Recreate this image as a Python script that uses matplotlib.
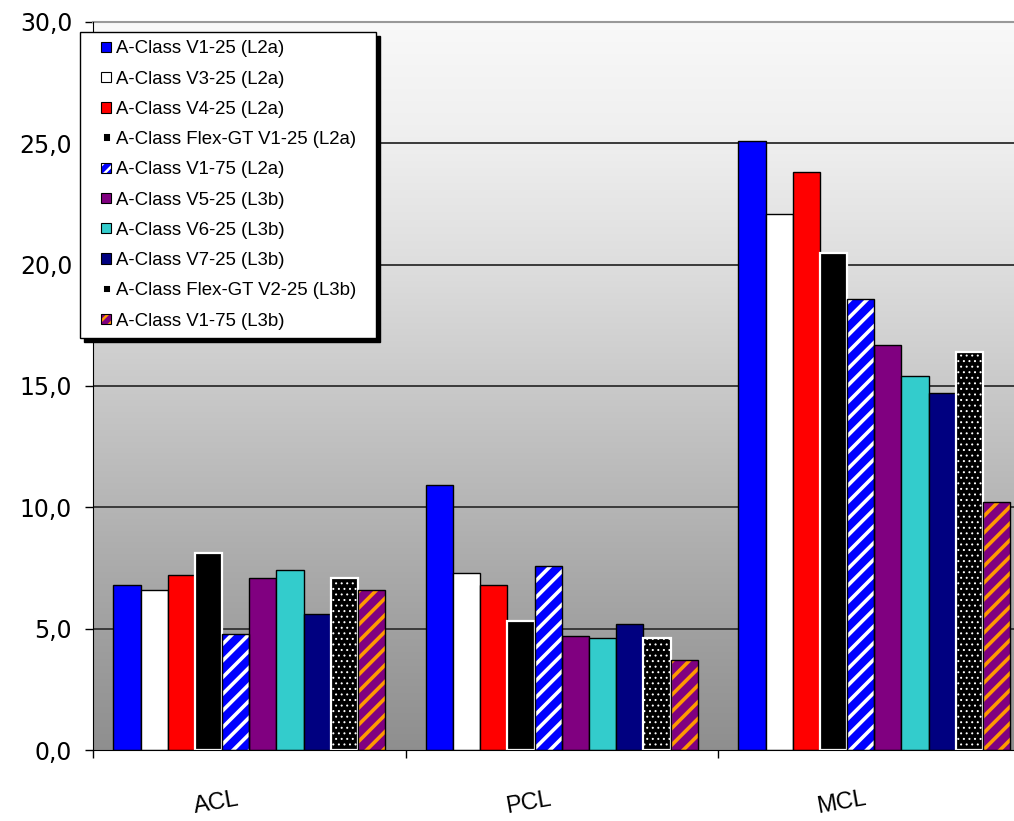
import numpy as np
import matplotlib
matplotlib.use("Agg")
import matplotlib.pyplot as plt
from matplotlib.patches import Rectangle
from matplotlib.legend_handler import HandlerBase
from matplotlib.colors import LinearSegmentedColormap
from matplotlib.transforms import ScaledTranslation

# ---- data -------------------------------------------------------------
categories = ["ACL", "PCL", "MCL"]

series_labels = [
    "A-Class V1-25 (L2a)",
    "A-Class V3-25 (L2a)",
    "A-Class V4-25 (L2a)",
    "A-Class Flex-GT V1-25 (L2a)",
    "A-Class V1-75 (L2a)",
    "A-Class V5-25 (L3b)",
    "A-Class V6-25 (L3b)",
    "A-Class V7-25 (L3b)",
    "A-Class Flex-GT V2-25 (L3b)",
    "A-Class V1-75 (L3b)",
]

v1_25_l2a = [6.8, 10.9, 25.1]
v3_25_l2a = [6.6, 7.3, 22.1]
v4_25_l2a = [7.2, 6.8, 23.8]
flex_v1_25_l2a = [8.1, 5.3, 20.5]
v1_75_l2a = [4.8, 7.6, 18.6]
v5_25_l3b = [7.1, 4.7, 16.7]
v6_25_l3b = [7.4, 4.6, 15.4]
v7_25_l3b = [5.6, 5.2, 14.7]
flex_v2_25_l3b = [7.1, 4.6, 16.4]
v1_75_l3b = [6.6, 3.7, 10.2]

series_values = [v1_25_l2a, v3_25_l2a, v4_25_l2a, flex_v1_25_l2a, v1_75_l2a,
                 v5_25_l3b, v6_25_l3b, v7_25_l3b, flex_v2_25_l3b, v1_75_l3b]

y_ticks = [0, 5, 10, 15, 20, 25, 30]
y_tick_labels = ["0,0", "5,0", "10,0", "15,0", "20,0", "25,0", "30,0"]

# ---- styles -----------------------------------------------------------
BLUE, WHITE, RED, BLACK = "#0000FF", "#FFFFFF", "#FF0000", "#000000"
PURPLE, CYAN, NAVY, ORANGE = "#800080", "#33CCCC", "#000080", "#FF9900"

# (face, hatch, hatch colour, outline colour, hatch line width)
styles = [
    (BLUE, None, None, BLACK, 0),
    (WHITE, None, None, BLACK, 0),
    (RED, None, None, BLACK, 0),
    (BLACK, None, None, WHITE, 0),
    (BLUE, "//", WHITE, BLACK, 2.6),
    (PURPLE, None, None, BLACK, 0),
    (CYAN, None, None, BLACK, 0),
    (NAVY, None, None, BLACK, 0),
    (BLACK, "...", WHITE, WHITE, 0.7),
    (PURPLE, "//", ORANGE, BLACK, 2.6),
]

DPI = 100
fig = plt.figure(figsize=(10.14, 8.21), dpi=DPI, facecolor="white")
ax = fig.add_axes([93 / 1014, 1 - 750 / 821, 937.5 / 1014, 728 / 821])

ax.set_xlim(-0.5, 2.5)
ax.set_ylim(0, 30)

# gradient background of the plot area
grad_cmap = LinearSegmentedColormap.from_list(
    "bg", [(0.0, (0.56,) * 3), (1 / 6, (0.63,) * 3), (2 / 6, (0.71,) * 3),
           (3 / 6, (0.79,) * 3), (4 / 6, (0.87,) * 3), (5 / 6, (0.935,) * 3),
           (1.0, (0.975,) * 3)])
grad = np.linspace(0, 1, 256).reshape(-1, 1)
ax.imshow(grad, cmap=grad_cmap, origin="lower", aspect="auto",
          extent=(-0.5, 2.5, 0, 30), zorder=0, interpolation="bicubic")

# horizontal grid lines
for yv in y_ticks[1:-1]:
    ax.axhline(yv, color="#3a3a3a", lw=1.4, zorder=1)

# ---- bars -------------------------------------------------------------
n = len(series_values)
width = 0.087
x = np.arange(len(categories))
for j, (vals, (face, hatch, hcol, ecol, hlw)) in enumerate(zip(series_values, styles)):
    pos = x + (j - (n - 1) / 2) * width
    elw = 1.6 if ecol == WHITE else 1.0
    if hatch is None:
        ax.bar(pos, vals, width=width, color=face, edgecolor=ecol,
               linewidth=elw, zorder=3)
    else:
        with plt.rc_context({"hatch.linewidth": hlw}):
            ax.bar(pos, vals, width=width, color=face, edgecolor=hcol,
                   hatch=hatch, linewidth=0, zorder=3)
        ax.bar(pos, vals, width=width, fill=False, edgecolor=ecol,
               linewidth=elw, zorder=4)

# ---- axes styling -----------------------------------------------------
ax.spines["top"].set_color("#999999")
ax.spines["top"].set_linewidth(1.5)
ax.spines["right"].set_visible(False)
ax.spines["left"].set_color("black")
ax.spines["bottom"].set_color("black")
ax.spines["left"].set_zorder(5)
ax.spines["bottom"].set_zorder(5)

ax.set_yticks(y_ticks)
ax.set_yticklabels(y_tick_labels, fontfamily="DejaVu Sans", fontsize=17)
ax.tick_params(axis="y", direction="out", length=6, width=1, pad=9)

# boundaries between categories as major ticks, names as minor tick labels
ax.set_xticks([-0.5, 0.5, 1.5, 2.5])
ax.set_xticklabels([])
ax.tick_params(axis="x", which="major", direction="out", length=6, width=1)
ax.set_xticks(x, minor=True)
ax.set_xticklabels(categories, minor=True, fontfamily="Liberation Sans",
                   fontsize=17, rotation=10, rotation_mode="anchor",
                   ha="center", va="center")
ax.tick_params(axis="x", which="minor", length=0, pad=38)
shift = ScaledTranslation(-33 / DPI, 0, fig.dpi_scale_trans)
for lab in ax.get_xticklabels(minor=True):
    lab.set_transform(lab.get_transform() + shift)


# ---- legend -----------------------------------------------------------
class LegendKey:
    def __init__(self, face, hatch, hcol, ecol, hlw):
        self.face, self.hatch, self.hcol, self.ecol, self.hlw = face, hatch, hcol, ecol, hlw


class SquareKeyHandler(HandlerBase):
    """Small square key placed at the right end of the handle box."""
    size = 7.4  # points

    def create_artists(self, legend, key, xdescent, ydescent, width, height,
                       fontsize, trans):
        s = self.size
        if key.ecol == WHITE:
            s = 6.2
        x0 = width - xdescent - s
        y0 = -ydescent + (height - s) / 2
        arts = []
        if key.hatch is None or key.hatch == "...":
            arts.append(Rectangle((x0, y0), s, s, facecolor=key.face,
                                  edgecolor=key.ecol,
                                  linewidth=1.4 if key.ecol == WHITE else 0.8,
                                  transform=trans))
        else:
            with plt.rc_context({"hatch.linewidth": 1.8}):
                arts.append(Rectangle((x0, y0), s, s, facecolor=key.face,
                                      edgecolor=key.hcol, hatch="///",
                                      linewidth=0, transform=trans))
            arts.append(Rectangle((x0, y0), s, s, fill=False,
                                  edgecolor=key.ecol, linewidth=0.8,
                                  transform=trans))
        return arts


keys = [LegendKey(*st) for st in styles]
leg_left, leg_top, leg_right, leg_bottom = 80, 32, 376, 335
leg = ax.legend(keys, series_labels, loc="upper left",
                bbox_to_anchor=(leg_left / 1014, 1 - leg_bottom / 821,
                                (leg_right - leg_left) / 1014,
                                (leg_bottom - leg_top) / 821),
                bbox_transform=fig.transFigure, borderaxespad=0, mode="expand",
                handler_map={LegendKey: SquareKeyHandler()},
                prop={"family": "Liberation Sans", "size": 13.4},
                handlelength=1.24, handleheight=0.7, handletextpad=0.27,
                labelspacing=0.71, borderpad=0.45, fancybox=False,
                framealpha=1, edgecolor="black",
                shadow={"color": "black", "alpha": 1, "ox": 3, "oy": -3})
leg.get_frame().set_linewidth(1.0)
leg.set_zorder(10)

fig.savefig("out.png", dpi=DPI, facecolor="white")
